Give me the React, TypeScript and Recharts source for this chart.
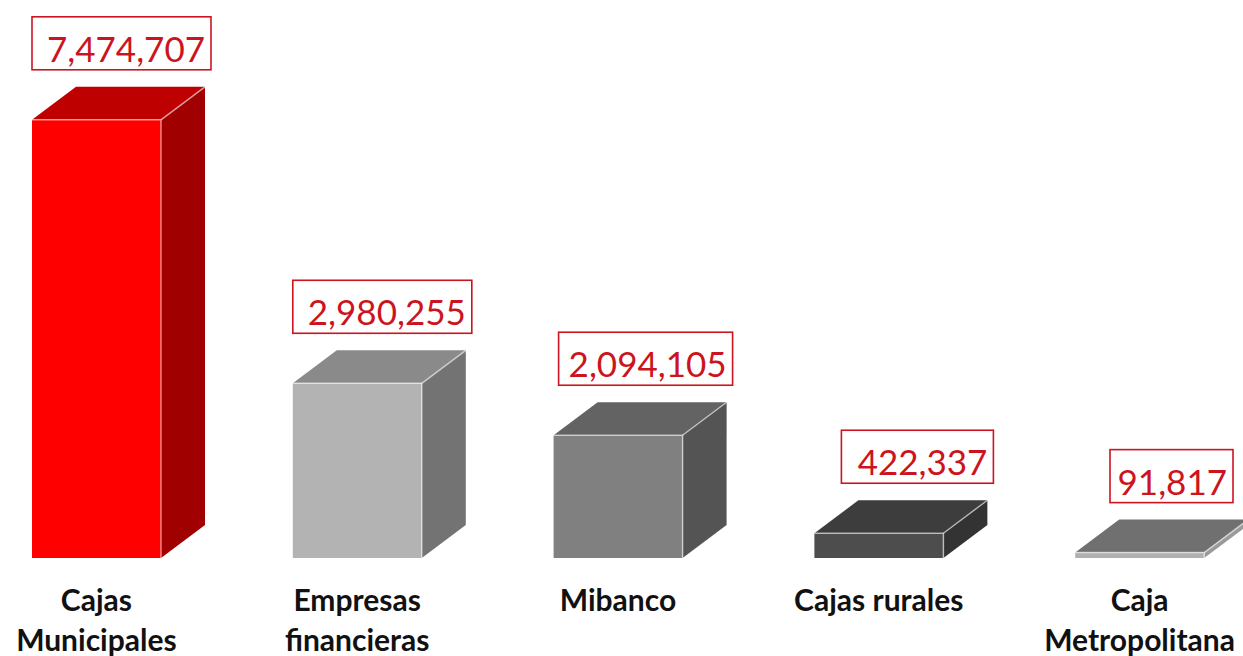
import { BarChart, Bar, XAxis, YAxis, LabelList } from "recharts";

const categories = ["Cajas\nMunicipales", "Empresas\nfinancieras", "Mibanco", "Cajas rurales", "Caja\nMetropolitana"];
const values = [7474707, 2980255, 2094105, 422337, 91817];
// front / top / side shades per bar
const frontColors = ["#ff0000", "#b3b3b3", "#808080", "#4d4d4d", "#b0b0b0"];
const topColors = ["#bf0000", "#8a8a8a", "#636363", "#3d3d3d", "#707070"];
const sideColors = ["#a00000", "#737373", "#545454", "#333333", "#9a9a9a"];

const data = categories.map((name, i) => ({ name, value: values[i] }));

const DX = 44;
const DY = 33;
const RED = "#cc1420";

function Box3D(props: any) {
  const { x, y, width, height, index } = props;
  const x2 = x + width;
  const yb = y + height;
  return (
    <g>
      <polygon
        points={`${x},${y} ${x + DX},${y - DY} ${x2 + DX},${y - DY} ${x2},${y}`}
        fill={topColors[index]}
      />
      <polygon
        points={`${x2},${y} ${x2 + DX},${y - DY} ${x2 + DX},${yb - DY} ${x2},${yb}`}
        fill={sideColors[index]}
      />
      <rect x={x} y={y} width={width} height={height} fill={frontColors[index]} />
      <polyline
        points={`${x},${y} ${x2},${y} ${x2},${yb}`}
        fill="none"
        stroke="rgba(255,255,255,0.55)"
        strokeWidth={1.5}
      />
      <line x1={x2} y1={y} x2={x2 + DX} y2={y - DY} stroke="rgba(255,255,255,0.55)" strokeWidth={1.5} />
    </g>
  );
}

function textWidth(s: string) {
  let w = 0;
  for (const c of s) w += c === "," ? 8 : c === "1" ? 14 : 19;
  return w;
}

function ValueBox(props: any) {
  const { x, y, width, value } = props;
  const label = Number(value).toLocaleString("en-US");
  const right = Math.min(x + width + DX + 6, 1233);
  const w = textWidth(label) + 30;
  const bottom = y - DY - 17;
  const h = 53;
  return (
    <g>
      <rect x={right - w} y={bottom - h} width={w} height={h} fill="#fff" stroke={RED} strokeWidth={1.6} />
      <text
        x={right - 6}
        y={bottom - 8}
        textAnchor="end"
        fill={RED}
        fontFamily="Lato, 'Open Sans', sans-serif"
        fontSize={35}
      >
        {label}
      </text>
    </g>
  );
}

function CategoryTick(props: any) {
  const { x, y, payload } = props;
  const lines = String(payload.value).split("\n");
  return (
    <text
      x={x}
      y={y}
      textAnchor="middle"
      fill="#111"
      fontFamily="Lato, 'Open Sans', sans-serif"
      fontWeight={700}
      fontSize={30}
    >
      {lines.map((l, i) => (
        <tspan key={i} x={x} dy={i === 0 ? 53 : 40}>
          {l}
        </tspan>
      ))}
    </text>
  );
}

export default function App() {
  return (
    <div style={{ position: "absolute", left: 0, top: 0, width: 1243, height: 656, background: "#fff" }}>
      <BarChart width={1243} height={656} data={data} margin={{ top: 89, right: -27, bottom: 0, left: -34 }}>
        <XAxis
          dataKey="name"
          axisLine={false}
          tickLine={false}
          tickSize={0}
          tickMargin={0}
          height={98}
          interval={0}
          tick={<CategoryTick />}
        />
        <YAxis hide domain={[0, 8000000]} />
        <Bar dataKey="value" barSize={129} shape={<Box3D />} isAnimationActive={false}>
          <LabelList dataKey="value" content={<ValueBox />} />
        </Bar>
      </BarChart>
    </div>
  );
}
